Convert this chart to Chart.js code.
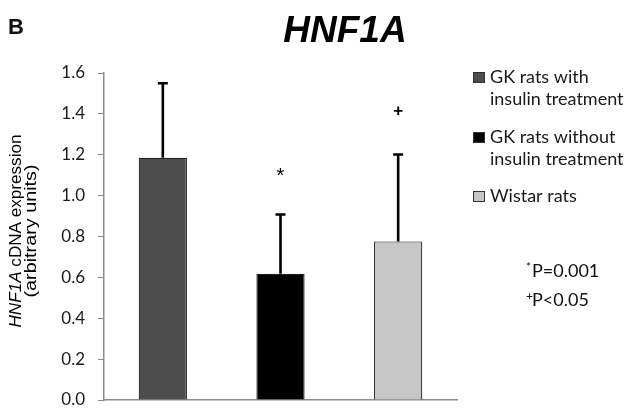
<!DOCTYPE html>
<html>
<head>
<meta charset="utf-8">
<script src="https://cdn.jsdelivr.net/npm/chart.js@4/dist/chart.umd.min.js"></script>
<style>
html,body{margin:0;padding:0;background:#fff;}
#wrap{width:631px;height:409px;position:relative;}
</style>
</head>
<body>
<div id="wrap"><canvas id="c" width="631" height="409"></canvas></div>
<script>
// ---- data ----
const categories = ['GK rats with insulin treatment', 'GK rats without insulin treatment', 'Wistar rats'];
const legendLines = [['GK rats with', 'insulin treatment'], ['GK rats without', 'insulin treatment'], ['Wistar rats']];
const means = [1.185, 0.618, 0.776];
const errorsUp = [0.365, 0.29, 0.425];
const markers = ['', '*', '+'];
const barColors = ['#4d4d4d', '#000000', '#c6c6c6'];
const yTicks = [0, 0.2, 0.4, 0.6, 0.8, 1.0, 1.2, 1.4, 1.6];
const statNotes = [['*', 'P=0.001'], ['+', 'P<0.05']];

const tickFont = 'Lato, "Open Sans", sans-serif';
const arial = '"Liberation Sans", Arial, sans-serif';

function fillCentered(ctx, text, cx, cy) {
  const m = ctx.measureText(text);
  const w = m.actualBoundingBoxRight + m.actualBoundingBoxLeft;
  const h = m.actualBoundingBoxAscent + m.actualBoundingBoxDescent;
  ctx.textAlign = 'left';
  ctx.textBaseline = 'alphabetic';
  ctx.fillText(text, cx - w / 2 + m.actualBoundingBoxLeft, cy + h / 2 - m.actualBoundingBoxDescent);
}

function fillFitted(ctx, text, cx, cy, targetW) {
  const m = ctx.measureText(text);
  const s = targetW / m.width;
  ctx.save();
  ctx.translate(cx, cy);
  ctx.scale(s, 1);
  ctx.textAlign = 'center';
  ctx.fillText(text, 0, 0);
  ctx.restore();
}

const overlay = {
  id: 'overlay',
  afterDatasetsDraw(chart) {
    const ctx = chart.ctx;
    const y = chart.scales.y;
    const meta = chart.getDatasetMeta(0);
    ctx.save();
    ctx.strokeStyle = '#000';
    ctx.lineWidth = 2.6;
    meta.data.forEach((bar, i) => {
      const x = bar.x;
      const yTop = y.getPixelForValue(means[i] + errorsUp[i]);
      const yBase = y.getPixelForValue(means[i]);
      ctx.beginPath();
      ctx.moveTo(x, yBase);
      ctx.lineTo(x, yTop);
      ctx.moveTo(x - 5, yTop);
      ctx.lineTo(x + 5, yTop);
      ctx.stroke();
      if (markers[i]) {
        ctx.fillStyle = '#000';
        if (markers[i] === '*') {
          ctx.font = '20px ' + arial;
          fillCentered(ctx, '*', x, yTop - 42);
        } else {
          ctx.font = 'bold 17px ' + arial;
          fillCentered(ctx, '+', x, yTop - 44);
        }
      }
    });
    ctx.restore();
  },
  afterDraw(chart) {
    const ctx = chart.ctx;
    ctx.save();
    // Panel letter
    ctx.fillStyle = '#111';
    ctx.font = 'bold 22px ' + arial;
    ctx.textBaseline = 'alphabetic';
    ctx.textAlign = 'left';
    ctx.fillText('B', 8, 34);
    // Title
    ctx.font = 'italic bold 37px ' + arial;
    ctx.textAlign = 'center';
    ctx.fillStyle = '#000';
    ctx.fillText('HNF1A', 345, 42);
    // Y axis title (rotated, mixed italic)
    ctx.translate(0, 231);
    ctx.rotate(-Math.PI / 2);
    ctx.fillStyle = '#000';
    ctx.textBaseline = 'middle';
    const fI = 'italic 16px ' + arial, fN = '16px ' + arial;
    ctx.font = fI; const w1 = ctx.measureText('HNF1A').width;
    ctx.font = fN; const w2 = ctx.measureText(' cDNA expression').width;
    const target1 = 193, s1 = target1 / (w1 + w2);
    ctx.save();
    ctx.translate(0, 17);
    ctx.scale(s1, 1);
    const sx = -(w1 + w2) / 2;
    ctx.textAlign = 'left';
    ctx.font = fI; ctx.fillText('HNF1A', sx, 0);
    ctx.font = fN; ctx.fillText(' cDNA expression', sx + w1, 0);
    ctx.restore();
    ctx.font = fN;
    fillFitted(ctx, '(arbitrary units)', 0, 32, 133);
    ctx.setTransform(1, 0, 0, 1, 0, 0);
    // Legend
    const lx = 473, tx = 490;
    const baselines = [83, 143, 202];
    ctx.font = '18px ' + tickFont;
    ctx.textAlign = 'left';
    ctx.textBaseline = 'alphabetic';
    legendLines.forEach((lines, i) => {
      const b = baselines[i];
      ctx.fillStyle = barColors[i];
      ctx.fillRect(lx, b - 11, 12, 11);
      ctx.strokeStyle = '#333';
      ctx.lineWidth = 1;
      ctx.strokeRect(lx + 0.5, b - 10.5, 11, 10);
      ctx.fillStyle = '#1a1a1a';
      lines.forEach((t, j) => ctx.fillText(t, tx, b + j * 22));
    });
    // stat notes
    const noteBase = [277, 306];
    statNotes.forEach(([sym, txt], k) => {
      const b = noteBase[k];
      ctx.fillStyle = '#111';
      ctx.font = '12px ' + tickFont;
      ctx.fillText(sym, 526, b - 6);
      ctx.font = '18px ' + tickFont;
      ctx.fillText(txt, 532, b);
    });
    ctx.restore();
  }
};

new Chart(document.getElementById('c'), {
  type: 'bar',
  data: {
    labels: categories,
    datasets: [{
      data: means,
      backgroundColor: barColors,
      borderColor: '#222',
      borderWidth: 1.2,
      borderSkipped: 'bottom',
      barPercentage: 0.41,
      categoryPercentage: 1.0
    }]
  },
  options: {
    responsive: false,
    animation: false,
    devicePixelRatio: 1,
    layout: { padding: { left: 0, right: 174, top: 73, bottom: 0 } },
    plugins: { legend: { display: false }, tooltip: { enabled: false }, title: { display: false } },
    scales: {
      x: {
        ticks: { display: false },
        grid: { display: false },
        border: { display: true, color: '#8a8a8a', width: 1.5 },
        afterFit(s) { s.height = 9; s.paddingLeft = 0; s.paddingRight = 0; }
      },
      y: {
        min: 0, max: 1.6,
        afterBuildTicks(s) { s.ticks = yTicks.map(v => ({ value: v })); },
        ticks: {
          font: { family: tickFont, size: 17 },
          color: '#1a1a1a',
          padding: 13,
          callback: v => Number(v).toFixed(1)
        },
        grid: { drawOnChartArea: false, drawTicks: true, tickLength: 6, color: '#8a8a8a', lineWidth: 1 },
        border: { display: true, color: '#8a8a8a', width: 1.5 },
        afterFit(s) { s.width = 104; s.paddingTop = 0; s.paddingBottom = 0; }
      }
    }
  },
  plugins: [overlay]
});
</script>
</body>
</html>
